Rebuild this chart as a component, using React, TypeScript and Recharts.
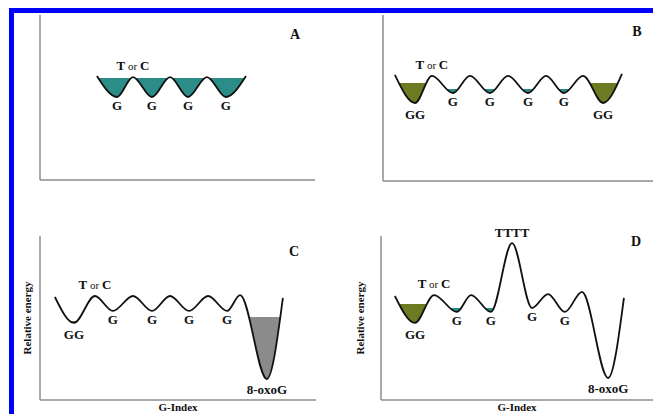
import React from 'react';
import { ComposedChart, Area, Line, XAxis, YAxis, LabelList, Label } from 'recharts';

const TEAL = '#2b8c88';
const OLIVE = '#6b7b22';
const GREY = '#8b8b8b';
const AXIS = '#8c8c8c';
const INK = '#111111';
const BLUE = '#0000ff';
const FONT = '"Liberation Serif", "Times New Roman", serif';
const BASE = 2; // bottom of the white mask under the curve

// A: four equivalent G wells
const aIndex = [20.7, 28.0, 33.8, 40.7, 47.3, 53.8, 60.7, 67.6, 74.9];
const aEnergy = [63.0, 50.3, 62.4, 50.3, 62.4, 50.3, 62.4, 50.3, 63.0];
const aTags = ['', 'G', 'T or C', 'G', '', 'G', '', 'G', ''];

// B: GG traps at both ends
const bIndex = [4.4, 11.9, 18.1, 25.9, 32.2, 39.6, 46.3, 53.7, 60.4, 67.0, 74.1, 81.5, 88.5];
const bEnergy = [63.9, 47.0, 63.3, 53.0, 63.3, 53.0, 63.3, 53.0, 63.3, 53.0, 63.3, 47.0, 64.5];
const bTags = ['', 'GG', 'T or C', 'G', '', 'G', '', 'G', '', 'G', '', 'GG', ''];

// C: deep 8-oxoG trap
const cIndex = [5.4, 12.3, 19.9, 26.4, 33.7, 40.6, 47.1, 54.0, 60.9, 67.8, 72.5, 82.2, 88.0];
const cEnergy = [62.8, 47.0, 63.4, 54.3, 63.4, 54.3, 63.4, 54.3, 63.4, 54.3, 64.0, 12.8, 62.2];
const cTags = ['', 'GG', 'T or C', 'G', '', 'G', '', 'G', '', 'G', '', '8-oxoG', ''];

// D: TTTT barrier
const dIndex = [5.1, 12.5, 19.5, 27.9, 33.1, 40.4, 48.2, 55.5, 61.4, 67.6, 73.9, 83.5, 89.3];
const dEnergy = [63.4, 47.0, 64.0, 53.7, 64.0, 53.7, 95.7, 56.1, 64.6, 53.7, 65.9, 13.4, 62.2];
const dTags = ['', 'GG', 'T or C', 'G', '', 'G', 'TTTT', 'G', '', 'G', '', '8-oxoG', ''];

// filled wells: [first point, last point, fill level]
const aTeal = [0, 8, 61.8];
const bOlive = [[0, 2, 59.0], [10, 12, 59.0]];
const bTeal = [2, 10, 55.4];
const cOlive = [0, 2, 48.2];
const cGrey = [10, 12, 50.6];
const dOlive = [0, 2, 58.5];
const dTeal = [2, 6, 56.1];

type Well = { span: number[]; color: string };

const BELOW: Record<string, number> = { G: 13, GG: 16, '8-oxoG': 15 };

function renderTag(props: any) {
  const { x, y, value } = props;
  if (!value) return null;
  const common = {
    x,
    textAnchor: 'middle' as const,
    fill: INK,
    fontFamily: FONT,
    fontSize: 13,
    fontWeight: 700,
  };
  if (value === 'T or C') {
    return (
      <text {...common} y={y - 7}>
        <tspan>T</tspan>
        <tspan fontSize={11} fontWeight={400}>{' or '}</tspan>
        <tspan>C</tspan>
      </text>
    );
  }
  if (value === 'TTTT') {
    return (
      <text {...common} y={y - 6}>
        {value}
      </text>
    );
  }
  return (
    <text {...common} y={y + (BELOW[value] ?? 13)}>
      {value}
    </text>
  );
}

interface PanelProps {
  left: number;
  top: number;
  width: number;
  height: number;
  margin: { top: number; right: number; bottom: number; left: number };
  index: number[];
  energy: number[];
  tags: string[];
  wells: Well[];
  letter: string;
  letterX: number;
  letterY: number;
  yTitleOffset?: number;
}

function Panel(p: PanelProps) {
  const rows = p.index.map((x, i) => {
    const row: Record<string, any> = { x, e: p.energy[i], tag: p.tags[i] };
    p.wells.forEach((w, k) => {
      row['w' + k] = i >= w.span[0] && i <= w.span[1] ? w.span[2] : null;
    });
    return row;
  });
  const titles = p.yTitleOffset !== undefined;
  const titleStyle = { fontFamily: FONT, fontSize: 11, fontWeight: 700, fill: INK };
  return (
    <div style={{ position: 'absolute', left: p.left, top: p.top, width: p.width, height: p.height }}>
      <ComposedChart width={p.width} height={p.height} data={rows} margin={p.margin}>
        <XAxis
          dataKey="x"
          type="number"
          domain={[0, 100]}
          height={1}
          tick={false}
          tickLine={false}
          axisLine={{ stroke: AXIS, strokeWidth: 1.5 }}
        >
          {titles && <Label value="G-Index" position="bottom" offset={2} style={titleStyle} />}
        </XAxis>
        <YAxis
          type="number"
          domain={[0, 100]}
          width={1}
          tick={false}
          tickLine={false}
          axisLine={{ stroke: AXIS, strokeWidth: 1.5 }}
        >
          {titles && (
            <Label
              value="Relative energy"
              angle={-90}
              position="left"
              offset={p.yTitleOffset}
              style={{ ...titleStyle, textAnchor: 'middle' }}
            />
          )}
        </YAxis>
        {p.wells.map((w, k) => (
          <Area
            key={k}
            dataKey={'w' + k}
            type="linear"
            baseValue={BASE}
            stroke="none"
            fill={w.color}
            fillOpacity={1}
            shapeRendering="crispEdges"
            isAnimationActive={false}
          />
        ))}
        <Area
          dataKey="e"
          type="monotone"
          baseValue={BASE}
          stroke="none"
          fill="#ffffff"
          fillOpacity={1}
          shapeRendering="crispEdges"
          isAnimationActive={false}
        />
        <Line
          dataKey="e"
          type="monotone"
          stroke={INK}
          strokeWidth={1.8}
          dot={false}
          activeDot={false}
          isAnimationActive={false}
        >
          <LabelList dataKey="tag" content={renderTag} />
        </Line>
      </ComposedChart>
      <div
        style={{
          position: 'absolute',
          left: p.letterX - 10,
          top: p.letterY - 12,
          width: 20,
          textAlign: 'center',
          fontFamily: FONT,
          fontWeight: 700,
          fontSize: 14,
          lineHeight: '14px',
          color: INK,
        }}
      >
        {p.letter}
      </div>
    </div>
  );
}

export default function App() {
  return (
    <div
      style={{
        position: 'absolute',
        left: 0,
        top: 0,
        width: 653,
        height: 414,
        overflow: 'hidden',
        background: '#ffffff',
        fontFamily: FONT,
      }}
    >
      <div style={{ position: 'absolute', left: 9, top: 8, width: 644, height: 5, background: BLUE }} />
      <div style={{ position: 'absolute', left: 9, top: 8, width: 5, height: 406, background: BLUE }} />
      <Panel
        left={0}
        top={0}
        width={326}
        height={200}
        margin={{ top: 15, right: 11, bottom: 19, left: 39 }}
        index={aIndex}
        energy={aEnergy}
        tags={aTags}
        wells={[{ span: aTeal, color: TEAL }]}
        letter="A"
        letterX={295}
        letterY={40}
      />
      <Panel
        left={326}
        top={0}
        width={327}
        height={200}
        margin={{ top: 15, right: 0, bottom: 18, left: 56 }}
        index={bIndex}
        energy={bEnergy}
        tags={bTags}
        wells={[
          { span: bOlive[0], color: OLIVE },
          { span: bTeal, color: TEAL },
          { span: bOlive[1], color: OLIVE },
        ]}
        letter="B"
        letterX={311}
        letterY={37}
      />
      <Panel
        left={0}
        top={200}
        width={326}
        height={214}
        margin={{ top: 36, right: 10, bottom: 13, left: 39 }}
        index={cIndex}
        energy={cEnergy}
        tags={cTags}
        wells={[
          { span: cOlive, color: OLIVE },
          { span: cGrey, color: GREY },
        ]}
        letter="C"
        letterX={294}
        letterY={57}
        yTitleOffset={12}
      />
      <Panel
        left={326}
        top={200}
        width={327}
        height={214}
        margin={{ top: 36, right: 0, bottom: 13, left: 54 }}
        index={dIndex}
        energy={dEnergy}
        tags={dTags}
        wells={[
          { span: dOlive, color: OLIVE },
          { span: dTeal, color: TEAL },
        ]}
        letter="D"
        letterX={310}
        letterY={47}
        yTitleOffset={20}
      />
    </div>
  );
}
